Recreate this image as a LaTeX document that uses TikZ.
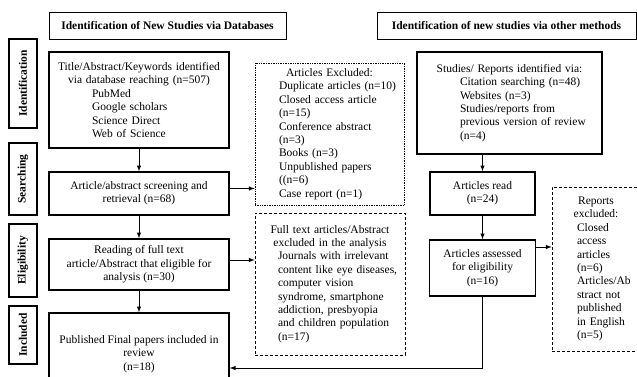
\documentclass[tikz,border=0pt]{standalone}
\usepackage{fontspec}
\setmainfont{Liberation Serif}

\begin{document}
\fontsize{11.5}{13.4}\selectfont
\begin{tikzpicture}[x=1pt,y=-1pt,
  head box/.style={draw,line width=0.8pt,font=\bfseries,inner sep=0pt,minimum height=27pt},
  stage box/.style={draw,line width=1.2pt,font=\bfseries,rotate=90,inner sep=0pt,minimum height=28pt},
  main box/.style={draw,line width=1.4pt,inner sep=0pt},
  dot box/.style={draw,densely dotted,line width=0.7pt,inner sep=0pt},
  dash box/.style={draw,dash pattern=on 3pt off 2pt,line width=0.7pt,inner sep=0pt},
  flow arrow/.style={line width=1pt,-latex}]
  \useasboundingbox (0,0) rectangle (637,376);
  \clip (0,0) rectangle (637,376);

  \node[head box,minimum width=237pt] (head db) at (167.5,25.5) {Identification of New Studies via Databases};
  \node[head box,minimum width=259pt] (head other) at (506.5,25.5) {Identification of new studies via other methods};

  \node[stage box,minimum width=89pt] (stage id) at (23,83.5) {Identification};
  \node[stage box,minimum width=72pt] (stage search) at (23,179) {Searching};
  \node[stage box,minimum width=73pt] (stage elig) at (23,260.5) {Eligibility};
  \node[stage box,minimum width=58pt] (stage incl) at (23,335) {Included};

  % left column
  \node[main box,minimum width=180pt,minimum height=96pt,text width=170pt] (ident) at (139,100)
    {\centering Title/Abstract/Keywords identified\\ via database reaching (n=507)\par
     \leftskip=38pt PubMed\\ Google scholars\\ Science Direct\\ Web of Science\par};
  \node[main box,minimum width=180pt,minimum height=43pt,align=center] (screen) at (139,193.5)
    {Article/abstract screening and\\ retrieval (n=68)};
  \node[main box,minimum width=180pt,minimum height=51pt,align=center] (read) at (139,264.5)
    {Reading of full text\\ article/Abstract that eligible for\\ analysis (n=30)};
  \node[main box,minimum width=180pt,minimum height=82pt,align=center] (pub) at (139,354)
    {Published Final papers included in\\ review\\ (n=18)};

  \node[dot box,minimum width=149pt,minimum height=142pt,text width=140pt] (excl) at (329.5,134)
    {\centering Articles Excluded:\par
     \leftskip=19.5pt Duplicate articles (n=10)\\ Closed access article\\ (n=15)\\ Conference abstract\\ (n=3)\\
     Books (n=3)\\ Unpublished papers\\ ((n=6)\\ Case report (n=1)\par};
  \node[dash box,minimum width=150pt,minimum height=142pt,text width=144pt] (full text) at (330,284)
    {\centering Full text articles/Abstract\\ excluded in the analysis\par
     \leftskip=20pt Journals with irrelevant\\ content like eye diseases,\\ computer vision\\ syndrome, smartphone\\
     addiction, presbyopia\\ and children population\\ (n=17)\par};

  % right column
  \node[main box,minimum width=185pt,minimum height=102pt,text width=175pt] (studies) at (509.5,103)
    {\centering Studies/ Reports identified via:\par
     \leftskip=38pt Citation searching (n=48)\\ Websites (n=3)\\ Studies/reports from\\ previous version of review\\ (n=4)\par};
  \node[main box,minimum width=105pt,minimum height=43pt,align=center] (art read) at (482.5,193.5)
    {Articles read\\ (n=24)};
  \node[main box,minimum width=106pt,minimum height=56pt,align=center] (assess) at (482.5,268)
    {Articles assessed\\ for eligibility\\ (n=16)};
  \node[dash box,minimum width=88pt,minimum height=164pt,text width=76pt] (rep excl) at (596,269)
    {\centering Reports\\ excluded:\par
     \leftskip=19pt Closed\\ access\\ articles\\ (n=6)\\ Articles/Ab\\ stract not\\ published\\ in English\\ (n=5)\par};

  \draw[flow arrow] (ident) -- (screen);
  \draw[flow arrow] (screen) -- (read);
  \draw[flow arrow] (read) -- (pub);
  \draw[flow arrow] ([yshift=5pt]screen.east) coordinate (s out) -- (s out -| excl.west);
  \draw[flow arrow] ([yshift=4.5pt]read.east) coordinate (r out) -- (r out -| full text.west);

  \draw[flow arrow] (art read.north |- studies.south) -- (art read);
  \draw[flow arrow] (art read) -- (assess);
  \draw[flow arrow] ([yshift=21pt]assess.east) coordinate (a out) -- (a out -| rep excl.west);
  \draw[flow arrow] (assess.south) |- ([yshift=-14pt]pub.east);
\end{tikzpicture}
\end{document}
